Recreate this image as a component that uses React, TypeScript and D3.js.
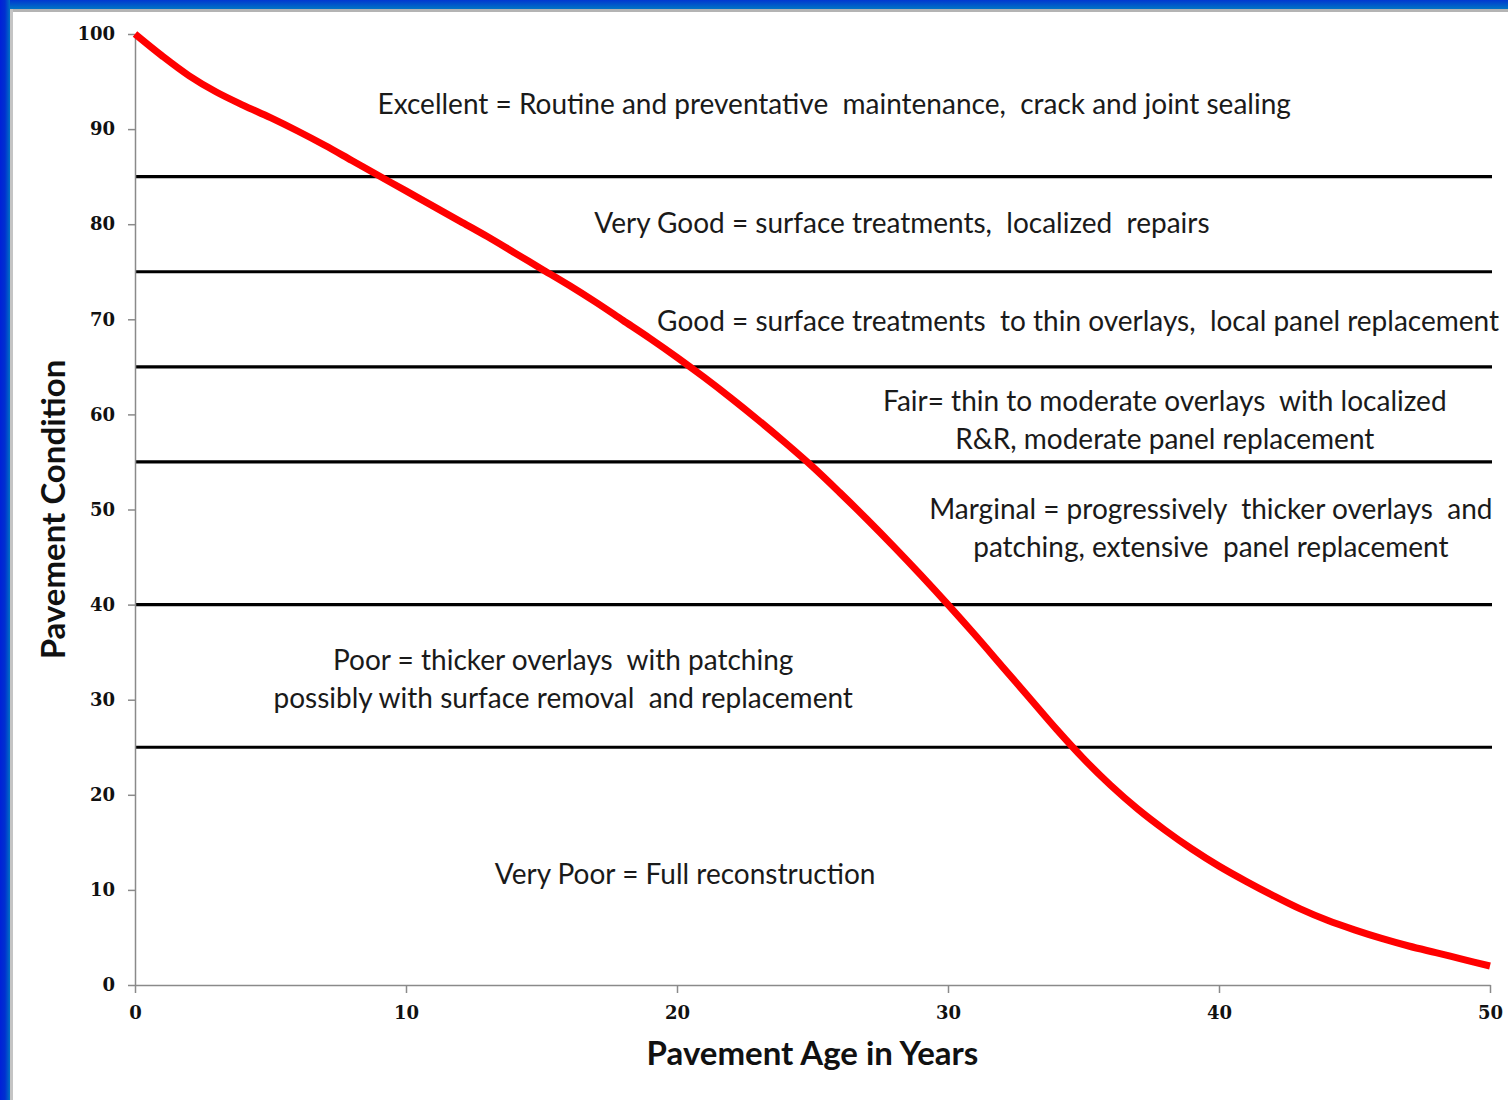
import React, { useEffect, useRef } from "react";
import * as d3 from "d3";

// pavement condition (0-100) against age in years
const ages = [0, 1, 2, 3, 4, 5, 6, 7, 8, 9, 10, 11, 12, 13, 14, 15, 16, 17, 18, 19, 20, 21, 22, 23, 24, 25, 26, 27, 28, 29, 30, 31, 32, 33, 34, 35, 36, 37, 38, 39, 40, 41, 42, 43, 44, 45, 46, 47, 48, 49, 50];
const condition = [100, 97.7, 95.6, 93.9, 92.5, 91.2, 89.8, 88.3, 86.7, 85.1, 83.5, 81.9, 80.3, 78.7, 77.0, 75.3, 73.6, 71.8, 69.9, 68.0, 66.0, 63.9, 61.7, 59.4, 57.0, 54.5, 51.8, 49.0, 46.1, 43.1, 40.0, 36.8, 33.5, 30.2, 26.9, 23.8, 21.0, 18.5, 16.3, 14.3, 12.5, 10.9, 9.4, 8.0, 6.8, 5.8, 4.9, 4.1, 3.4, 2.7, 2.0];

// band limits (horizontal black lines)
const bandLimits = [85, 75, 65, 55, 40, 25];

const xTicks = [0, 10, 20, 30, 40, 50];
const yTicks = [0, 10, 20, 30, 40, 50, 60, 70, 80, 90, 100];

// labels: lines of text, anchored at (age, condition) of the text centre
const bandLabels = [
  { age: 25.8, cond: 92.6, lines: ["Excellent = Routine and preventative  maintenance,  crack and joint sealing"] },
  { age: 28.3, cond: 80.1, lines: ["Very Good = surface treatments,  localized  repairs"] },
  { age: 34.8, cond: 69.8, lines: ["Good = surface treatments  to thin overlays,  local panel replacement"] },
  { age: 38.0, cond: 59.4, lines: ["Fair= thin to moderate overlays  with localized", "R&R, moderate panel replacement"] },
  { age: 39.7, cond: 48.0, lines: ["Marginal = progressively  thicker overlays  and", "patching, extensive  panel replacement"] },
  { age: 15.8, cond: 32.2, lines: ["Poor = thicker overlays  with patching", "possibly with surface removal  and replacement"] },
  { age: 20.3, cond: 11.7, lines: ["Very Poor = Full reconstruction"] }
];

const xTitle = "Pavement Age in Years";
const yTitle = "Pavement Condition";

const W = 1508,
  H = 1100;
const margin = { left: 135, right: 18, top: 34, bottom: 115 };

export default function App() {
  const svgRef = useRef<SVGSVGElement>(null);

  useEffect(() => {
    const svg = d3.select(svgRef.current);
    svg.selectAll("*").remove();

    const x = d3
      .scaleLinear()
      .domain([0, 50])
      .range([margin.left, W - margin.right]);
    const y = d3
      .scaleLinear()
      .domain([0, 100])
      .range([H - margin.bottom, margin.top]);

    // frame
    const defs = svg.append("defs");
    const gTop = defs
      .append("linearGradient")
      .attr("id", "topBlue")
      .attr("x1", 0)
      .attr("y1", 0)
      .attr("x2", 0)
      .attr("y2", 1);
    gTop.append("stop").attr("offset", "0%").attr("stop-color", "#0038d0");
    gTop.append("stop").attr("offset", "100%").attr("stop-color", "#0074c4");
    const gLeft = defs
      .append("linearGradient")
      .attr("id", "leftBlue")
      .attr("x1", 0)
      .attr("y1", 0)
      .attr("x2", 1)
      .attr("y2", 0);
    gLeft.append("stop").attr("offset", "0%").attr("stop-color", "#0020d8");
    gLeft.append("stop").attr("offset", "50%").attr("stop-color", "#0030d0");
    gLeft.append("stop").attr("offset", "100%").attr("stop-color", "#0070c4");

    svg.append("rect").attr("width", W).attr("height", H).attr("fill", "#ffffff");
    svg.append("rect").attr("width", W).attr("height", 9).attr("fill", "url(#topBlue)");
    svg.append("rect").attr("width", 10).attr("height", H).attr("fill", "url(#leftBlue)");
    svg.append("rect").attr("x", 10).attr("y", 9).attr("width", W - 10).attr("height", 3).attr("fill", "#b4b4b4");
    svg.append("rect").attr("x", 10).attr("y", 9).attr("width", 3).attr("height", H - 9).attr("fill", "#c4c4c4");

    // band lines
    svg
      .append("g")
      .selectAll("line")
      .data(bandLimits)
      .enter()
      .append("line")
      .attr("x1", x(0))
      .attr("x2", x(50) + 2)
      .attr("y1", d => y(d))
      .attr("y2", d => y(d))
      .attr("stroke", "#000")
      .attr("stroke-width", 3.2);

    // axes
    const yAxis = d3
      .axisLeft(y)
      .tickValues(yTicks)
      .tickSize(7)
      .tickSizeOuter(0)
      .tickPadding(13);
    const xAxis = d3
      .axisBottom(x)
      .tickValues(xTicks)
      .tickSize(8)
      .tickSizeOuter(0)
      .tickPadding(13);

    const ya = svg
      .append("g")
      .attr("transform", "translate(" + x(0) + ",0)")
      .call(yAxis);
    const xa = svg
      .append("g")
      .attr("transform", "translate(0," + y(0) + ")")
      .call(xAxis);

    [ya, xa].forEach(a => {
      a.select(".domain").attr("stroke", "#8a8a8a").attr("stroke-width", 1.5);
      a.selectAll(".tick line").attr("stroke", "#8a8a8a").attr("stroke-width", 1.5);
      a.selectAll(".tick text")
        .attr("fill", "#111")
        .style("font-family", "'DejaVu Serif', serif")
        .style("font-size", "18px")
        .style("font-weight", "bold");
    });

    // curve
    const line = d3
      .line<number>()
      .x((d, i) => x(ages[i]))
      .y(d => y(d))
      .curve(d3.curveCatmullRom.alpha(0.5));

    svg
      .append("path")
      .datum(condition)
      .attr("d", line)
      .attr("fill", "none")
      .attr("stroke", "#ff0000")
      .attr("stroke-width", 7)
      .attr("stroke-linecap", "butt");

    // band labels
    const lineGap = 38;
    const lbl = svg
      .append("g")
      .style("font-family", "Lato, 'Open Sans', sans-serif")
      .style("font-size", "28px")
      .attr("fill", "#1a1a1a")
      .attr("text-anchor", "middle");
    bandLabels.forEach(b => {
      const n = b.lines.length;
      b.lines.forEach((t, i) => {
        lbl
          .append("text")
          .attr("x", x(b.age))
          .attr("y", y(b.cond) + (i - (n - 1) / 2) * lineGap)
          .attr("dy", "0.35em")
          .style("white-space", "pre")
          .text(t);
      });
    });

    // titles
    svg
      .append("text")
      .attr("x", (x(0) + x(50)) / 2)
      .attr("y", 1065)
      .attr("text-anchor", "middle")
      .style("font-family", "Lato, 'Open Sans', sans-serif")
      .style("font-size", "33px")
      .style("font-weight", "bold")
      .attr("fill", "#111")
      .text(xTitle);

    svg
      .append("text")
      .attr("transform", "translate(65," + y(50) + ") rotate(-90)")
      .attr("text-anchor", "middle")
      .style("font-family", "Lato, 'Open Sans', sans-serif")
      .style("font-size", "33px")
      .style("font-weight", "bold")
      .attr("fill", "#111")
      .text(yTitle);
  }, []);

  return (
    <div style={{ position: "absolute", left: 0, top: 0 }}>
      <svg ref={svgRef} width={W} height={H} style={{ display: "block" }} />
    </div>
  );
}
